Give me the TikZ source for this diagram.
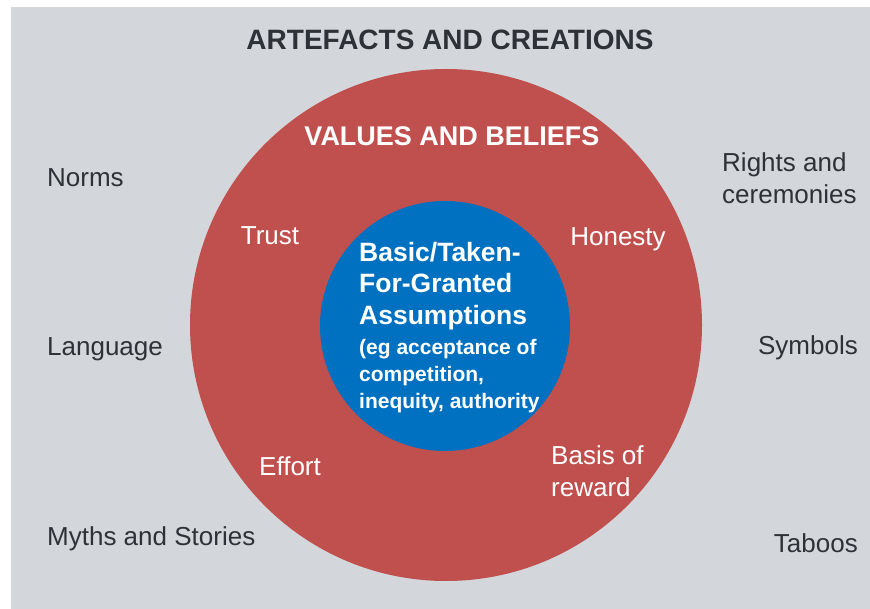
\documentclass[tikz,border=0pt]{standalone}
\usepackage{fontspec}
\setmainfont{Liberation Sans}
\definecolor{panelgray}{RGB}{211,215,219}
\definecolor{valuered}{RGB}{192,80,77}
\definecolor{coreblue}{RGB}{0,112,192}
\definecolor{inkgray}{RGB}{45,50,56}
\tikzset{
    outer/.style={text=inkgray,inner sep=0pt,align=left,font=\fontsize{26}{32}\selectfont},
    inner/.style={text=white,inner sep=0pt,align=left,font=\fontsize{26}{32}\selectfont},
    heading/.style={inner sep=0pt,font=\fontsize{27}{32}\selectfont\bfseries},
}
\begin{document}
\begin{tikzpicture}[x=1pt,y=-1pt]
            \useasboundingbox(0,0)rectangle(870,609);
            \fill[white](0,0)rectangle(870,609);
            \fill[panelgray](11,7)rectangle(870,609);
            \fill[valuered](446,325)circle(256);
            \fill[coreblue](445,326)circle(125);
            \node[heading,text=inkgray,font=\fontsize{28}{32}\selectfont\bfseries](artefacts)at(450,40){ARTEFACTS AND CREATIONS};
            \node[heading,text=white](values)at(452,136){VALUES AND BELIEFS};
            % outer ring
            \node[outer,anchor=west](norms)at(47,178){Norms};
            \node[outer,anchor=west](language)at(47,349){Language};
            \node[outer,anchor=west](myths)at(47,539){Myths and Stories};
            \node[outer,anchor=west](rights)at(722,178){Rights and\\ceremonies};
            \node[outer,anchor=east](symbols)at(858,348){Symbols};
            \node[outer,anchor=east](taboos)at(858,543){Taboos};
            % values
            \node[inner](trust)at(270,236){Trust};
            \node[inner](honesty)at(618,239){Honesty};
            \node[inner](effort)at(290,466){Effort};
            \node[inner,anchor=west](basis)at(551,471){Basis of\\reward};
            % assumptions
            \node[inner,anchor=west,font=\fontsize{26.5}{31.5}\selectfont\bfseries](basic)at(359,286){Basic/Taken-\\For-Granted\\Assumptions};
            \node[inner,anchor=west,font=\fontsize{21}{27}\selectfont\bfseries](eg)at(359,376){(eg acceptance of\\competition,\\inequity, authority};
        \end{tikzpicture}
\end{document}
